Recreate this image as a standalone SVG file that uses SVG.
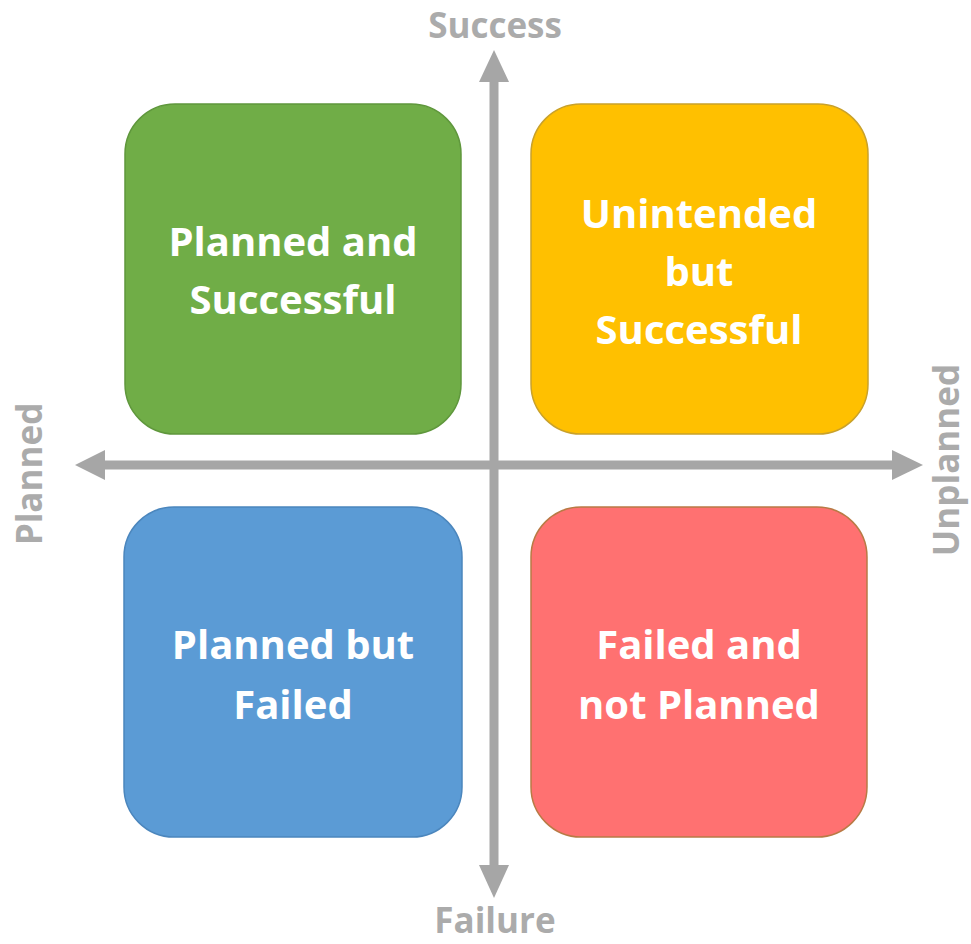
<svg xmlns="http://www.w3.org/2000/svg" width="971" height="944" viewBox="0 0 971 944">
<style>
.box{stroke-width:1.5}
.t{font-family:"Open Sans","Noto Sans","Liberation Sans",sans-serif;font-weight:700;fill:#ffffff;font-size:40px;text-anchor:middle}
.ax{font-family:"Open Sans","Noto Sans","Liberation Sans",sans-serif;font-weight:700;fill:#ABABAB;font-size:35px;text-anchor:middle}
.axis{stroke:#A6A6A6;stroke-width:9;fill:none}
.head{fill:#A6A6A6}
</style>
<rect width="971" height="944" fill="#ffffff"/>
<g id="connectors">
  <line class="axis" x1="494" y1="80" x2="494" y2="868"/>
  <line class="axis" x1="103" y1="465" x2="894" y2="465"/>
  <polygon class="head" points="494,50 479,82 509,82"/>
  <polygon class="head" points="494,898 479,865 509,865"/>
  <polygon class="head" points="75,465 105,450 105,480"/>
  <polygon class="head" points="923,465 892,450 892,480"/>
</g>
<g id="node-planned-successful">
  <rect class="box" x="125" y="104" width="336" height="330" rx="50" fill="#70AD47" stroke="#5F973C"/>
  <text class="t" x="293" y="256">Planned and</text>
  <text class="t" x="293" y="314">Successful</text>
</g>
<g id="node-unintended-successful">
  <rect class="box" x="531" y="104" width="337" height="330" rx="50" fill="#FFC000" stroke="#C9A12A"/>
  <text class="t" x="699" y="228">Unintended</text>
  <text class="t" x="699" y="286">but</text>
  <text class="t" x="699" y="344">Successful</text>
</g>
<g id="node-planned-failed">
  <rect class="box" x="124" y="507" width="338" height="330" rx="50" fill="#5B9BD5" stroke="#4B86BD"/>
  <text class="t" x="293" y="659">Planned but</text>
  <text class="t" x="293" y="719">Failed</text>
</g>
<g id="node-failed-not-planned">
  <rect class="box" x="531" y="507" width="336" height="330" rx="50" fill="#FF7171" stroke="#B97A45"/>
  <text class="t" x="699" y="659">Failed and</text>
  <text class="t" x="699" y="719">not Planned</text>
</g>
<g id="axis-labels">
  <text class="ax" x="495" y="38">Success</text>
  <text class="ax" x="495" y="933">Failure</text>
  <text class="ax" transform="translate(42,474) rotate(-90)">Planned</text>
  <text class="ax" transform="translate(959,460) rotate(-90)">Unplanned</text>
</g>
</svg>
